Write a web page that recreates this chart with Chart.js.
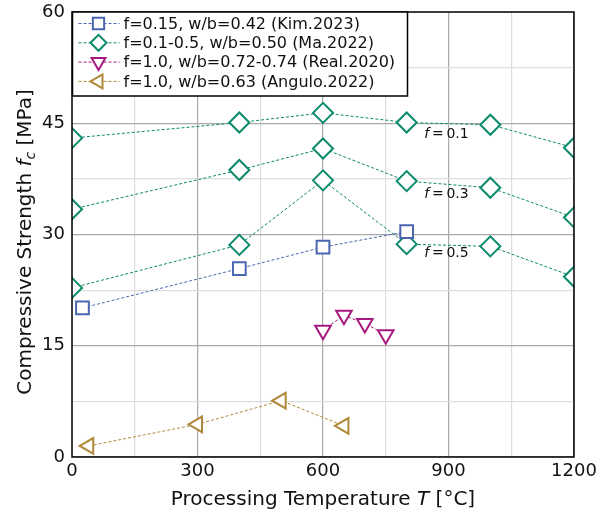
<!DOCTYPE html>
<html>
<head>
<meta charset="utf-8">
<script src="https://cdn.jsdelivr.net/npm/chart.js@4"></script>
<style>
	html, body { margin: 0; padding: 0; background: #fff; }
	#wrap { width: 598px; height: 511px; }
</style>
</head>
<body>
<div id="wrap"><canvas id="chart" width="598" height="511"></canvas></div>
<script>
// data
const kimT = [25, 400, 600, 800];
const kimFc = [20.1, 25.4, 28.3, 30.4];

const maT = [0, 400, 600, 800, 1000, 1200];
const maF01 = [43.0, 45.1, 46.4, 45.1, 44.8, 41.7];
const maF03 = [33.4, 38.7, 41.6, 37.2, 36.3, 32.3];
const maF05 = [22.8, 28.6, 37.3, 28.7, 28.4, 24.3];

const realT = [600, 650, 700, 750];
const realFc = [17.1, 19.1, 18.0, 16.5];

const anguloT = [40, 300, 500, 650];
const anguloFc = [1.5, 4.4, 7.6, 4.2];

const xTicks = [0, 300, 600, 900, 1200];
const yTicks = [0, 15, 30, 45, 60];

const fLabels = [
	{ text: "0.1", T: 895, fc: 43.5 },
	{ text: "0.3", T: 895, fc: 35.4 },
	{ text: "0.5", T: 895, fc: 27.4 },
];

const legendNames = [
	"f=0.15, w/b=0.42 (Kim.2023)",
	"f=0.1-0.5, w/b=0.50 (Ma.2022)",
	"f=1.0, w/b=0.72-0.74 (Real.2020)",
	"f=1.0, w/b=0.63 (Angulo.2022)",
];

const blue = "#4a66b0";
const green = "#0a8a6a";
const magenta = "#a8197f";
const gold = "#b0883a";
const FONT = "'DejaVu Sans', sans-serif";

function pts(xs, ys) {
	return xs.map((x, i) => ({ x: x, y: ys[i] }));
}

function series(label, xs, ys, color, style, radius, rotation) {
	return {
		label: label,
		data: pts(xs, ys),
		borderColor: color,
		backgroundColor: "#ffffff",
		borderWidth: 1,
		borderDash: [3, 2],
		pointStyle: style,
		pointRadius: radius,
		pointRotation: rotation,
		pointBorderWidth: 2,
		pointBorderColor: color,
		pointBackgroundColor: "#ffffff",
		showLine: true,
	};
}

const markers = [
	{ color: blue, style: "rect", radius: 8, rotation: 0 },
	{ color: green, style: "rectRot", radius: 8, rotation: 0 },
	{ color: magenta, style: "triangle", radius: 8, rotation: 180 },
	{ color: gold, style: "triangle", radius: 8, rotation: 270 },
];

const extras = {
	id: "extras",
	afterDatasetsDraw(chart) {
		const ctx = chart.ctx;
		const a = chart.chartArea;
		const xs = chart.scales.x;
		const ys = chart.scales.y;
		const W = chart.width, H = chart.height;
		ctx.save();
		// cut markers that stick out of the axes box
		ctx.fillStyle = "#fff";
		ctx.fillRect(0, 0, a.left, H);
		ctx.fillRect(a.right, 0, W - a.right, H);
		ctx.fillRect(0, 0, W, a.top);
		ctx.fillRect(0, a.bottom, W, H - a.bottom);

		// tick labels
		ctx.fillStyle = "#111";
		ctx.font = "18px " + FONT;
		ctx.textAlign = "right";
		ctx.textBaseline = "middle";
		for (const v of yTicks) ctx.fillText(String(v), a.left - 7, ys.getPixelForValue(v));
		ctx.textAlign = "center";
		ctx.textBaseline = "top";
		for (const v of xTicks) ctx.fillText(String(v), xs.getPixelForValue(v), a.bottom + 5);

		// frame
		ctx.strokeStyle = "#000";
		ctx.lineWidth = 1.5;
		ctx.setLineDash([]);
		ctx.strokeRect(a.left, a.top, a.right - a.left, a.bottom - a.top);

		// f labels
		ctx.fillStyle = "#111";
		ctx.textBaseline = "middle";
		for (const l of fLabels) {
			const px = xs.getPixelForValue(l.T);
			const py = ys.getPixelForValue(l.fc);
			ctx.font = "italic 14px " + FONT;
			ctx.textAlign = "left";
			const w1 = ctx.measureText("f").width;
			ctx.font = "14px " + FONT;
			const rest = "\u2009=\u2009" + l.text;
			const w2 = ctx.measureText(rest).width;
			const x0 = px - (w1 + w2) / 2;
			ctx.font = "italic 14px " + FONT;
			ctx.fillText("f", x0, py);
			ctx.font = "14px " + FONT;
			ctx.fillText(rest, x0 + w1, py);
		}

		// legend
		const lx = a.left + 0.5, ly = a.top, lw = 335, lh = 84;
		ctx.fillStyle = "#fff";
		ctx.fillRect(lx, ly, lw, lh);
		ctx.strokeStyle = "#000";
		ctx.lineWidth = 1.5;
		ctx.strokeRect(lx, ly, lw, lh);
		ctx.font = "16px " + FONT;
		ctx.textAlign = "left";
		ctx.textBaseline = "middle";
		legendNames.forEach((name, i) => {
			const m = markers[i];
			const cy = ly + 11.5 + i * 19.3;
			ctx.strokeStyle = m.color;
			ctx.lineWidth = 1;
			ctx.setLineDash([3, 2]);
			ctx.beginPath();
			ctx.moveTo(lx + 6, cy);
			ctx.lineTo(lx + 47, cy);
			ctx.stroke();
			ctx.setLineDash([]);
			ctx.lineWidth = 2;
			ctx.fillStyle = "#fff";
			Chart.helpers.drawPoint(ctx, {
				pointStyle: m.style,
				radius: m.radius,
				rotation: m.rotation,
				borderWidth: 2,
			}, lx + 26, cy);
			ctx.fillStyle = "#111";
			ctx.fillText(name, lx + 51, cy + 1);
		});

		// axis titles
		ctx.fillStyle = "#111";
		ctx.textBaseline = "alphabetic";
		const xParts = [["Processing Temperature ", ""], ["T", "italic "], [" [\u00b0C]", ""]];
		drawParts(ctx, xParts, (a.left + a.right) / 2, 505);
		ctx.translate(31, 242);
		ctx.rotate(-Math.PI / 2);
		const yParts = [["Compressive Strength ", ""], ["f", "italic "], ["c", "italic sub"], [" [MPa]", ""]];
		drawParts(ctx, yParts, 0, 0);
		ctx.restore();
	},
};

function drawParts(ctx, parts, cx, y) {
	let total = 0;
	const widths = parts.map(p => {
		ctx.font = fontFor(p[1]);
		const w = ctx.measureText(p[0]).width;
		total += w;
		return w;
	});
	let x = cx - total / 2;
	ctx.textAlign = "left";
	parts.forEach((p, i) => {
		ctx.font = fontFor(p[1]);
		ctx.fillText(p[0], x, p[1].includes("sub") ? y + 4 : y);
		x += widths[i];
	});
}

function fontFor(style) {
	if (style.includes("sub")) return "italic 14px " + FONT;
	return style + "20px " + FONT;
}

new Chart(document.getElementById("chart"), {
	type: "scatter",
	data: {
		datasets: [
			series(legendNames[0], kimT, kimFc, blue, "rect", 9, 0),
			series(legendNames[1], maT, maF01, green, "rectRot", 10, 0),
			series("", maT, maF03, green, "rectRot", 10, 0),
			series("", maT, maF05, green, "rectRot", 10, 0),
			series(legendNames[2], realT, realFc, magenta, "triangle", 9, 180),
			series(legendNames[3], anguloT, anguloFc, gold, "triangle", 9, 270),
		],
	},
	options: {
		responsive: false,
		animation: false,
		layout: { padding: { top: 11, right: 24, left: 0, bottom: 0 } },
		plugins: {
			legend: { display: false },
			tooltip: { enabled: false },
		},
		scales: {
			x: {
				type: "linear",
				min: 0,
				max: 1200,
				afterFit: (s) => {
					s.height = 54;
					s.paddingLeft = 0;
					s.paddingRight = 0;
				},
				afterBuildTicks: (s) => {
					s.ticks = [];
					for (let v = 0; v <= 1200; v += 150) s.ticks.push({ value: v });
				},
				ticks: {
					// labels are painted by the plugin, after the markers are cut
					color: "rgba(0,0,0,0)",
					font: { family: FONT, size: 18 },
					padding: 3,
					maxRotation: 0,
					callback: (v) => (xTicks.includes(v) ? String(v) : ""),
				},
				grid: {
					drawTicks: false,
					color: (c) => (c.tick && xTicks.includes(c.tick.value) ? "#aaaaaa" : "#dddddd"),
					lineWidth: 1.2,
				},
				border: { display: false },
			},
			y: {
				type: "linear",
				min: 0,
				max: 60,
				afterFit: (s) => {
					s.width = 72;
					s.paddingTop = 0;
					s.paddingBottom = 0;
				},
				afterBuildTicks: (s) => {
					s.ticks = [];
					for (let v = 0; v <= 60; v += 7.5) s.ticks.push({ value: v });
				},
				ticks: {
					color: "rgba(0,0,0,0)",
					font: { family: FONT, size: 18 },
					padding: 7,
					callback: (v) => (yTicks.includes(v) ? String(v) : ""),
				},
				grid: {
					drawTicks: false,
					color: (c) => (c.tick && yTicks.includes(c.tick.value) ? "#aaaaaa" : "#dddddd"),
					lineWidth: 1.2,
				},
				border: { display: false },
			},
		},
	},
	plugins: [extras],
});
</script>
</body>
</html>
